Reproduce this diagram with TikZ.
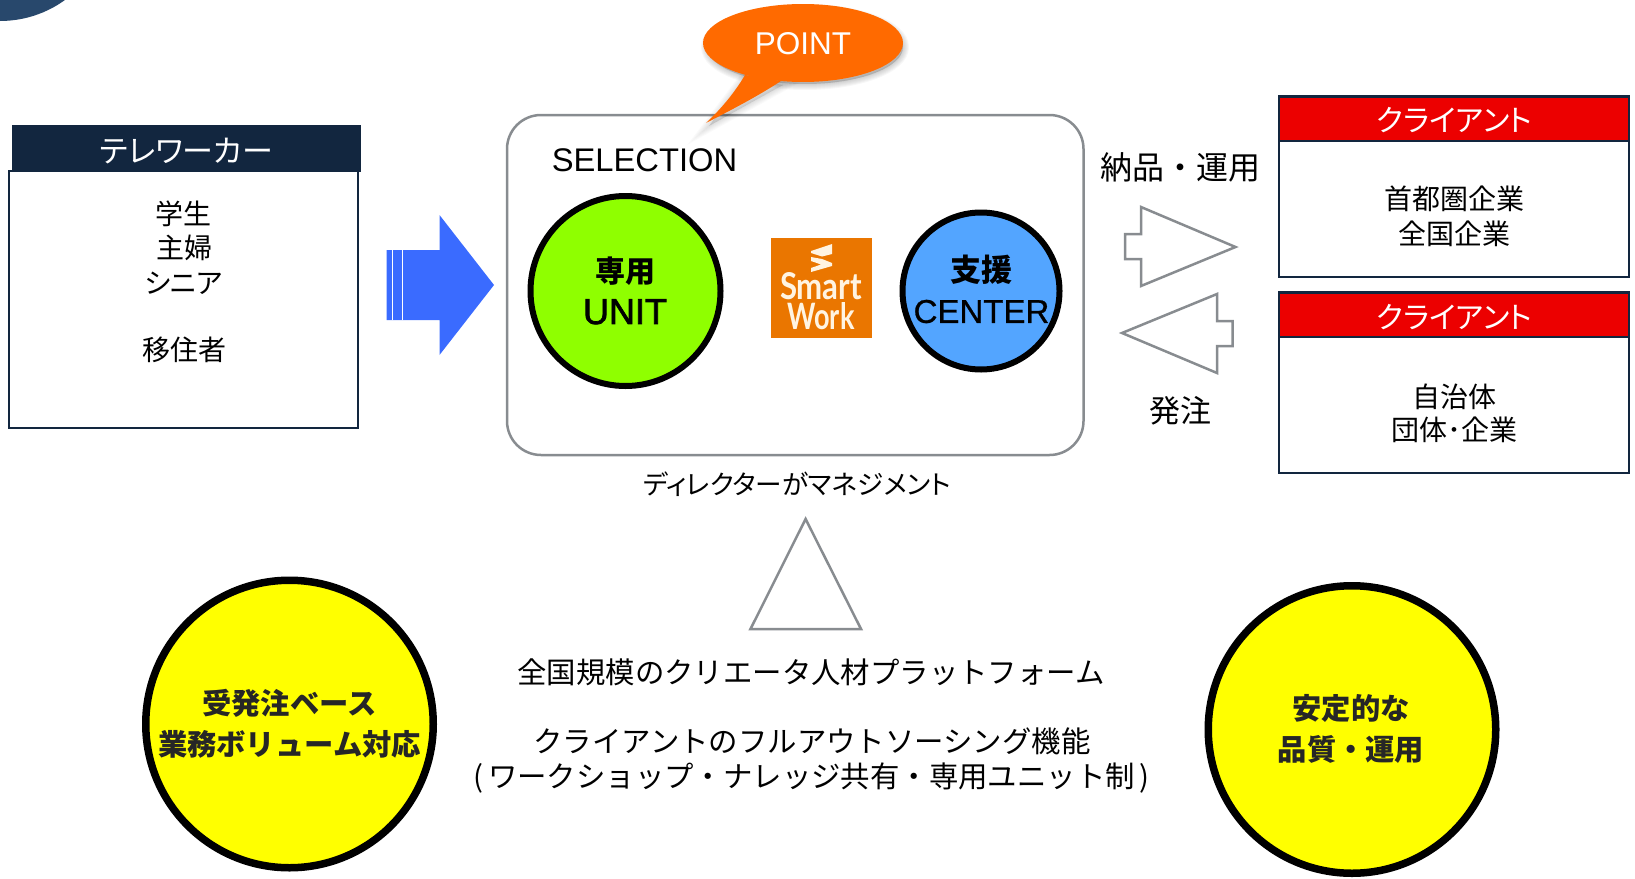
\documentclass[tikz,border=0pt]{standalone}
\usepackage{fontspec}
\usetikzlibrary{shapes.geometric}
\setmainfont{Liberation Sans}
\newfontfamily\jp{Noto Sans CJK JP}
\newfontfamily\jpp[RawFeature=+palt]{Noto Sans CJK JP}
\newfontfamily\med[FakeBold=2]{Liberation Sans}
\newfontfamily\semi[FakeBold=0.8]{Liberation Sans}
\newfontfamily\logofont{Lato}
\definecolor{navy}{HTML}{12263F}
\definecolor{graybd}{HTML}{888C90}
\definecolor{arrowblue}{HTML}{3A6BFF}
\definecolor{limeg}{HTML}{8FFF00}
\definecolor{skyb}{HTML}{53A5FF}
\definecolor{logoor}{HTML}{EA7600}
\definecolor{calloutor}{HTML}{FF6A00}
\definecolor{hdred}{HTML}{EC0000}
\definecolor{ylw}{HTML}{FFFF00}
\definecolor{corner}{HTML}{28486C}
\definecolor{cream}{HTML}{FFF4E2}
\tikzset{
  lbl/.style={inner sep=0pt,outer sep=0pt,anchor=base,align=center},
  boxbd/.style={draw=navy,line width=2.5pt,fill=white},
  hdbox/.style={draw=navy,line width=2.5pt,fill=hdred},
  outline/.style={draw=graybd,line width=2.5pt,fill=white,line join=miter},
  disc/.style={draw=black,circle,inner sep=0pt,outer sep=0pt},
}
% name, x, y(centre), size, options, text
\newcommand\lab[6]{\node[lbl,#5] (#1) at ({#2},{#3+0.36*#4}) {\fontsize{#4pt}{#4pt}\selectfont #6};}
\begin{document}
\begin{tikzpicture}[x=1pt,y=-1pt]
\useasboundingbox (0,0) rectangle (1635,878);
\begin{scope}
\clip (0,0) rectangle (1635,878);
\fill[corner] (0,-90) circle (111);
\end{scope}

% left box
\draw[boxbd] (9,171) rectangle (358,428);
\fill[navy] (12,125) rectangle (361,172);
\lab{tw}{186.5}{151}{31}{font=\jpp,text=white}{テレワーカー}
\lab{a1}{183.5}{214}{28}{font=\jp}{学生}
\lab{a2}{184.5}{248}{28}{font=\jp}{主婦}
\lab{a3}{183.5}{283}{28}{font=\jpp}{シニア}
\lab{a4}{184.5}{350}{28}{font=\jp}{移住者}

% blue arrow
\fill[arrowblue] (386.5,250) -- (439.5,250) -- (439.5,215) -- (494,285) -- (439.5,355) -- (439.5,320) -- (386.5,320) -- cycle;
\draw[white,line width=.9pt] (392,250) -- (392,320) (402.5,250) -- (402.5,320);

% selection box
\draw[draw=graybd,line width=2.5pt,fill=white,rounded corners=34pt] (507,115) rectangle (1083.5,455);

% callout
\foreach \w in {12,10,8,6,4,2}{
  \fill[black,opacity=.03,draw=black,line width=\w pt,draw opacity=.03]
    (805,47) ellipse [x radius=98,y radius=37];
  \fill[black,opacity=.02,draw=black,line width=\w pt,draw opacity=.02]
    (709,126) -- (745,78) -- (783,85) -- cycle;
}
\fill[calloutor] (706,123) .. controls (722,108) and (735,92) .. (745,75) -- (781,81) .. controls (758,96) and (735,108) .. (706,123) -- cycle;
\node[ellipse,fill=calloutor,minimum width=200pt,minimum height=78pt,inner sep=0pt] (pt) at (803,43) {};
\lab{pointt}{803}{43}{31.5}{text=white}{POINT}

\lab{sel}{644.5}{160}{32.7}{}{SELECTION}

% unit
\node[disc,fill=limeg,line width=6pt,minimum size=190pt] (unit) at (625.5,291) {};
\lab{u1}{625}{272}{30}{font=\jp\bfseries}{専用}
\lab{u2}{625}{311}{36}{font=\med}{UNIT}

% logo
\node[fill=logoor,minimum width=101pt,minimum height=100pt,inner sep=0pt] (logo) at (821.5,288) {};
\fill[cream] (811,251) -- (832,244) -- (832,254) -- (822,256.5) -- (811,253) -- cycle;
\fill[cream] (811,257) -- (822,259) -- (832,263) -- (832,266) -- (811,272) -- (811,268) -- (821,264.5) -- (811,261) -- cycle;
\node[lbl,anchor=center,text=cream] (sm) at (821,286.5) {\resizebox{82pt}{27pt}{\logofont\bfseries Smart}};
\node[lbl,anchor=center,text=cream] (wk) at (821,316.5) {\resizebox{67pt}{27pt}{\logofont\bfseries Work}};

% center
\node[disc,fill=skyb,line width=6pt,minimum size=157pt] (center) at (981,291) {};
\lab{c1}{981.5}{270}{31}{font=\jp\bfseries}{支援}
\lab{c2}{981.5}{311}{33}{font=\semi}{CENTER}

\lab{dir}{797}{485}{26.6}{font=\jpp}{ディレクターがマネジメント}

% outline arrows
\draw[outline] (1235.5,247) -- (1141,207) -- (1141,234) -- (1125,234) -- (1125,259) -- (1141,259) -- (1141,286) -- cycle;
\draw[outline] (1122,333) -- (1217,294) -- (1217,321) -- (1232.5,321) -- (1232.5,346) -- (1217,346) -- (1217,373) -- cycle;
\lab{nohin}{1180}{168}{32}{font=\jp}{納品・運用}
\lab{hatchu}{1180}{411}{31}{font=\jp}{発注}

% client boxes
\draw[boxbd] (1279,141) rectangle (1629,277);
\draw[hdbox] (1279,96.5) rectangle (1629,141);
\lab{cl1}{1454.5}{121}{30}{font=\jpp,text=white}{クライアント}
\lab{b1}{1454.5}{199}{28}{font=\jp}{首都圏企業}
\lab{b2}{1454.5}{234}{28}{font=\jp}{全国企業}
\draw[boxbd] (1279,337) rectangle (1629,473);
\draw[hdbox] (1279,292.5) rectangle (1629,337);
\lab{cl2}{1454.5}{318}{30}{font=\jpp,text=white}{クライアント}
\lab{b3}{1454.5}{397}{28}{font=\jp}{自治体}
\lab{b4}{1454.5}{430}{28}{font=\jp}{団体･企業}

% triangle
\draw[outline] (805.6,519) -- (750.5,629) -- (861,629) -- cycle;

% center texts
\lab{t1}{811}{673}{29.4}{font=\jp}{全国規模のクリエータ人材プラットフォーム}
\lab{t2}{812}{742}{29.4}{font=\jp}{クライアントのフルアウトソーシング機能}
\lab{t3}{811.5}{777}{29.4}{font=\jp}{(\,ワークショップ・ナレッジ共有・専用ユニット制\,)}

% yellow discs
\node[disc,fill=ylw,line width=7.5pt,minimum size=287.5pt] (yl) at (289.5,724) {};
\lab{y1}{289.5}{704}{29.3}{font=\jp\bfseries,text=black!85}{受発注ベース}
\lab{y2}{289.5}{745}{29.3}{font=\jp\bfseries,text=black!85}{業務ボリューム対応}
\node[disc,fill=ylw,line width=7.5pt,minimum size=287.5pt] (yr) at (1352,729.5) {};
\lab{y3}{1351}{709}{29.3}{font=\jp\bfseries,text=black!85}{安定的な}
\lab{y4}{1351}{750}{29.3}{font=\jp\bfseries,text=black!85}{品質・運用}
\end{tikzpicture}
\end{document}
